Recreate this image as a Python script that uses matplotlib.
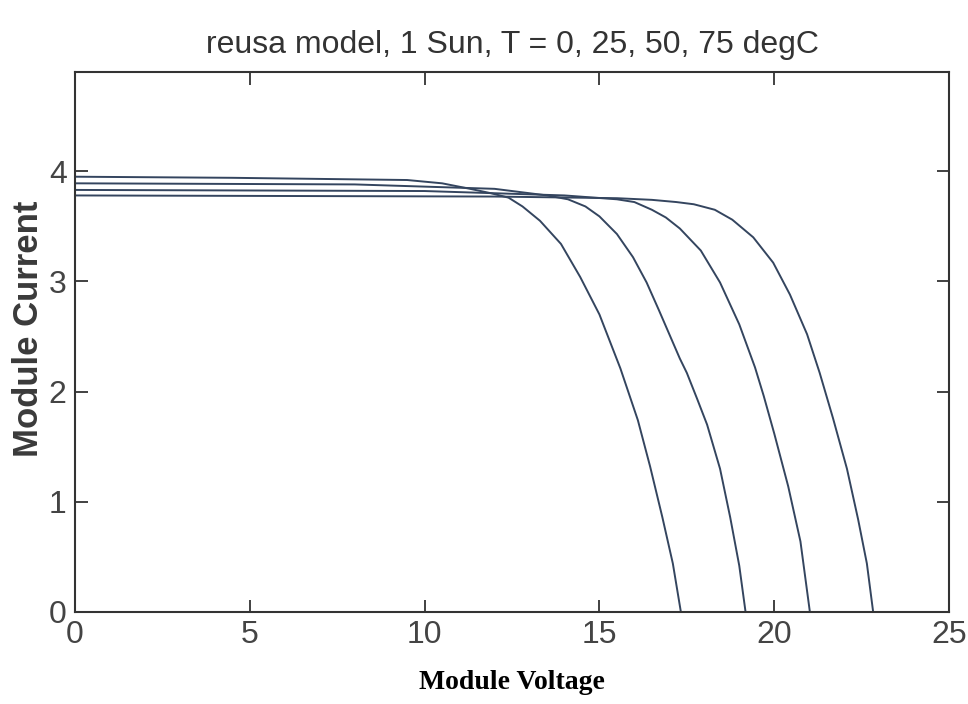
import numpy as np
import matplotlib.pyplot as plt

# I-V curves (module voltage V, module current A)
v_t0 = [0, 12.0, 15.5, 16.5, 17.2, 17.7, 18.3, 18.8, 19.4, 19.97, 20.45, 20.94, 21.3, 21.68, 22.08, 22.4, 22.65, 22.83]
i_t0 = [3.78, 3.77, 3.755, 3.74, 3.72, 3.70, 3.65, 3.56, 3.40, 3.17, 2.88, 2.52, 2.17, 1.76, 1.30, 0.84, 0.44, 0.0]

v_t25 = [0, 10.0, 14.0, 15.5, 16.0, 16.5, 16.9, 17.3, 17.9, 18.45, 19.0, 19.45, 19.7, 20.0, 20.4, 20.75, 21.02]
i_t25 = [3.83, 3.82, 3.78, 3.745, 3.72, 3.65, 3.58, 3.48, 3.28, 2.99, 2.61, 2.22, 1.96, 1.62, 1.14, 0.64, 0.0]

v_t50 = [0, 8.0, 12.0, 13.5, 14.1, 14.6, 15.0, 15.5, 15.96, 16.35, 16.7, 17.0, 17.3, 17.5, 17.8, 18.08, 18.45, 18.74, 19.0, 19.18]
i_t50 = [3.89, 3.88, 3.84, 3.78, 3.745, 3.68, 3.59, 3.43, 3.22, 2.99, 2.74, 2.52, 2.30, 2.17, 1.93, 1.70, 1.30, 0.86, 0.42, 0.0]

v_t75 = [0, 4.5, 9.5, 10.5, 11.3, 11.9, 12.4, 12.8, 13.3, 13.9, 14.45, 15.0, 15.6, 16.1, 16.45, 16.8, 17.1, 17.33]
i_t75 = [3.95, 3.94, 3.92, 3.89, 3.84, 3.80, 3.76, 3.68, 3.55, 3.34, 3.04, 2.70, 2.21, 1.74, 1.32, 0.86, 0.44, 0.0]

x_ticks = [0, 5, 10, 15, 20, 25]
y_ticks = [0, 1, 2, 3, 4]

sans = ['Liberation Sans', 'DejaVu Sans']

fig = plt.figure(figsize=(9.68, 7.04), dpi=100)
ax = fig.add_axes([0.0775, 0.1307, 0.9029, 0.767])

line_color = '#34455f'
for v, i in [(v_t0, i_t0), (v_t25, i_t25), (v_t50, i_t50), (v_t75, i_t75)]:
    ax.plot(v, i, color=line_color, lw=1.4, solid_joinstyle='round')

ax.set_xlim(0, 25)
ax.set_ylim(0, 4.9)
ax.set_xticks(x_ticks)
ax.set_yticks(y_ticks)
ax.tick_params(direction='in', length=9, width=1.3, colors='#333333',
               top=True, right=True, labelsize=23, pad=6)
for lab in ax.get_xticklabels() + ax.get_yticklabels():
    lab.set_family(sans)
    lab.set_color('#444444')
for s in ax.spines.values():
    s.set_color('#333333')
    s.set_linewidth(1.5)

ax.set_title('reusa model, 1 Sun, T = 0, 25, 50, 75 degC', family=sans,
             fontsize=23, color='#333333', pad=14)
ax.set_ylabel('Module Current', family=sans,
              fontsize=25, fontweight='bold', color='#3a3a3a')
ax.yaxis.set_label_coords(-0.034, 0.525)
ax.set_xlabel('Module Voltage', family=['Liberation Serif', 'DejaVu Serif'],
              fontsize=20, fontweight='bold', color='black', labelpad=14)

fig.savefig('out.png', dpi=100)
